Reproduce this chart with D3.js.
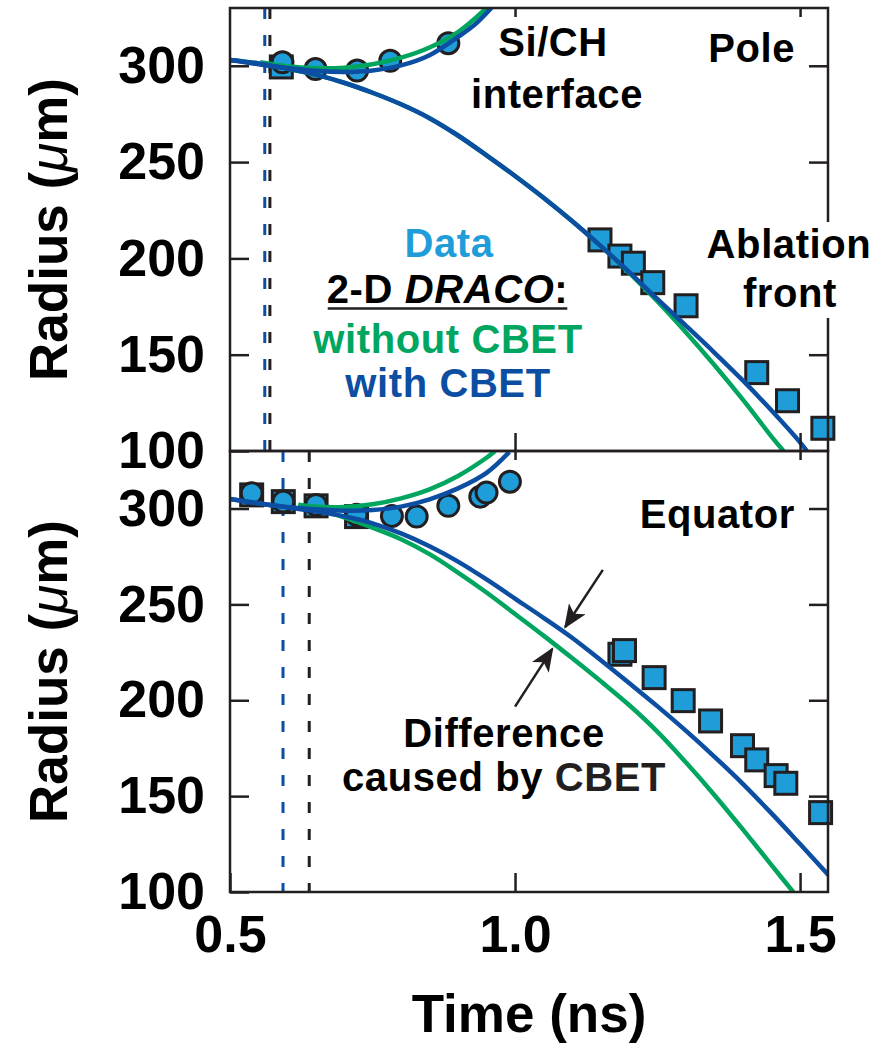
<!DOCTYPE html>
<html><head><meta charset="utf-8">
<script src="https://cdn.jsdelivr.net/npm/d3@7"></script>
<style>
body{margin:0;background:#fff}
svg{display:block}
text{font-family:"Liberation Sans",Arial,Helvetica,sans-serif;font-weight:bold}
</style>
</head><body>
<svg id="chart" width="883" height="1045"></svg>
<script>
// ---------------- data ----------------
const timeTicks = [0.5, 1.0, 1.5];
const radiusTicks = [100, 150, 200, 250, 300];

// Pole panel
const poleSquareT = [0.590, 1.149, 1.184, 1.2076, 1.2416, 1.300, 1.424, 1.478, 1.540];
const poleSquareR = [299.4, 209.6, 201.2, 197.5, 187.4, 175.4, 140.7, 126.1, 111.8];
const poleCircleT = [0.592, 0.650, 0.723, 0.781, 0.883];
const poleCircleR = [301.8, 298.3, 297.5, 302.6, 311.7];

const poleBlueFrontT = [0.50,0.55,0.60,0.65,0.70,0.75,0.80,0.85,0.90,0.95,1.00,1.05,1.10,1.15,1.20,1.25,1.30,1.35,1.40,1.45,1.50,1.512];
const poleBlueFrontR = [303.0,301.2,298.6,295.4,291.2,286.0,280.0,272.8,263.8,253.5,242.8,231.5,219.4,206.5,193.0,178.8,165.0,151.0,136.5,121.0,104.5,100.0];
const poleGreenFrontT = [0.50,0.55,0.60,0.65,0.70,0.75,0.80,0.85,0.90,0.95,1.00,1.05,1.10,1.15,1.20,1.25,1.30,1.35,1.40,1.45,1.471];
const poleGreenFrontR = [303.0,301.2,298.6,295.4,291.2,286.0,280.0,272.8,263.8,253.5,242.8,231.5,219.4,206.5,192.6,177.6,161.5,144.5,126.5,107.5,100.0];
const poleBlueIfaceT = [0.50,0.55,0.60,0.65,0.70,0.75,0.80,0.85,0.90,0.93,0.96];
const poleBlueIfaceR = [303.0,300.8,298.8,297.4,296.8,297.6,300.2,305.5,315.0,321.5,330.5];
const poleGreenIfaceT = [0.553,0.60,0.65,0.70,0.75,0.80,0.85,0.90,0.95];
const poleGreenIfaceR = [301.8,299.8,298.8,299.0,300.8,304.2,309.5,317.5,330.0];
const poleDashBlue = 0.561, poleDashBlack = 0.570;

// Equator panel
const eqSquareT = [0.538, 0.5935, 0.651, 0.722, 1.184, 1.192, 1.244, 1.295, 1.343, 1.399, 1.424, 1.458, 1.475, 1.536];
const eqSquareR = [307.1, 303.6, 301.4, 295.8, 224.0, 225.9, 211.8, 199.8, 189.2, 176.3, 168.9, 160.7, 156.7, 141.4];
const eqCircleT = [0.538, 0.5935, 0.651, 0.722, 0.784, 0.8275, 0.883, 0.939, 0.950, 0.991];
const eqCircleR = [308.0, 303.6, 301.9, 296.7, 296.1, 295.8, 301.4, 306.2, 308.3, 314.0];

const eqBlueFrontT = [0.50,0.55,0.60,0.65,0.70,0.75,0.80,0.85,0.90,0.95,1.00,1.05,1.10,1.15,1.20,1.25,1.30,1.35,1.40,1.45,1.50,1.55];
const eqBlueFrontR = [305.0,302.8,300.6,298.6,296.0,292.3,287.0,280.3,272.3,263.0,253.0,243.0,232.6,221.0,209.0,196.8,184.0,170.5,156.3,141.0,125.0,108.8];
const eqGreenFrontT = [0.62,0.65,0.70,0.75,0.80,0.85,0.90,0.95,1.00,1.05,1.10,1.15,1.20,1.25,1.30,1.35,1.40,1.45,1.488];
const eqGreenFrontR = [302.0,299.8,295.4,290.0,284.0,276.2,266.6,256.2,245.0,233.7,222.0,210.0,197.5,183.5,167.5,150.5,132.5,114.0,100.0];
const eqBlueIfaceT = [0.50,0.55,0.60,0.65,0.70,0.75,0.80,0.85,0.90,0.95,0.99];
const eqBlueIfaceR = [305.0,302.6,300.8,299.6,298.9,299.2,301.0,304.8,310.5,318.6,329.5];
const eqGreenIfaceT = [0.62,0.65,0.70,0.75,0.80,0.85,0.90,0.95,0.965];
const eqGreenIfaceR = [302.0,301.0,300.8,302.2,305.3,310.0,317.0,326.5,330.0];
const eqDashBlue = 0.593, eqDashBlack = 0.639;

// arrows (bottom panel, data units): [t0, r0, t1, r1]
const arrowBlue = [1.154, 268.0, 1.088, 238.2];
const arrowGreen = [1.000, 196.7, 1.0654, 226.8];

// ---------------- styles ----------------
const C_DATA = "#1f9dd9", C_BLUE = "#0b4ea2", C_GREEN = "#00a65f", C_INK = "#231f20";
const FONT = '"Liberation Sans", Arial, Helvetica, sans-serif';

const svg = d3.select("#chart");
const x = d3.scaleLinear().domain([0.5, 1.549]).range([230, 828]);

const defs = svg.append("defs");
defs.append("marker").attr("id", "ah")
  .attr("viewBox", "0 0 12 10").attr("refX", 11).attr("refY", 5)
  .attr("markerUnits", "userSpaceOnUse").attr("markerWidth", 26).attr("markerHeight", 20)
  .attr("orient", "auto")
  .append("path").attr("d", "M0,0 L12,5 L0,10 L3,5 Z").attr("fill", C_INK);

const zip = (a, b) => a.map((v, i) => [v, b[i]]);

const panels = [
  {name: "pole", top: 8, bottom: 451,
   squares: zip(poleSquareT, poleSquareR), circles: zip(poleCircleT, poleCircleR),
   green: [zip(poleGreenFrontT, poleGreenFrontR), zip(poleGreenIfaceT, poleGreenIfaceR)],
   blue: [zip(poleBlueFrontT, poleBlueFrontR), zip(poleBlueIfaceT, poleBlueIfaceR)],
   dashBlue: poleDashBlue, dashBlack: poleDashBlack, bottomTicks: [1.0, 1.5], bottomTickLen: 18, labels: false},
  {name: "eq", top: 451, bottom: 892,
   squares: zip(eqSquareT, eqSquareR), circles: zip(eqCircleT, eqCircleR),
   green: [zip(eqGreenFrontT, eqGreenFrontR), zip(eqGreenIfaceT, eqGreenIfaceR)],
   blue: [zip(eqBlueFrontT, eqBlueFrontR), zip(eqBlueIfaceT, eqBlueIfaceR)],
   dashBlue: eqDashBlue, dashBlack: eqDashBlack, bottomTicks: timeTicks, bottomTickLen: 19, labels: true}
];

function styleAxis(g) {
  g.select(".domain").remove();
  g.selectAll(".tick line").attr("stroke", C_INK).attr("stroke-width", 2.5);
  g.selectAll("text").attr("font-family", FONT).attr("font-weight", "bold")
    .attr("font-size", 52).attr("fill", "#000");
}

panels.forEach(p => {
  const y = d3.scaleLinear().domain([100, 330]).range([p.bottom, p.top]);
  const g = svg.append("g").attr("class", p.name);
  const clipId = "clip-" + p.name;
  defs.append("clipPath").attr("id", clipId).append("rect")
    .attr("x", x.range()[0]).attr("y", p.top)
    .attr("width", x.range()[1] - x.range()[0]).attr("height", p.bottom - p.top);

  // dashed time markers
  [[p.dashBlue, C_BLUE], [p.dashBlack, C_INK]].forEach(([t, c]) => {
    g.append("line").attr("x1", x(t)).attr("x2", x(t)).attr("y1", p.top).attr("y2", p.bottom)
      .attr("stroke", c).attr("stroke-width", 3).attr("stroke-dasharray", "11,16");
  });

  // data markers
  g.append("g").selectAll("rect").data(p.squares).join("rect")
    .attr("x", d => x(d[0]) - 11).attr("y", d => y(d[1]) - 11)
    .attr("width", 22).attr("height", 22)
    .attr("fill", C_DATA).attr("stroke", C_INK).attr("stroke-width", 3);
  g.append("g").selectAll("circle").data(p.circles).join("circle")
    .attr("cx", d => x(d[0])).attr("cy", d => y(d[1])).attr("r", 10.5)
    .attr("fill", C_DATA).attr("stroke", C_INK).attr("stroke-width", 3);

  // simulation curves
  const line = d3.line().x(d => x(d[0])).y(d => y(d[1])).curve(d3.curveCatmullRom.alpha(0.5));
  const lg = g.append("g").attr("clip-path", `url(#${clipId})`);
  p.green.forEach(s => lg.append("path").attr("d", line(s)).attr("fill", "none")
    .attr("stroke", C_GREEN).attr("stroke-width", 4.5));
  p.blue.forEach(s => lg.append("path").attr("d", line(s)).attr("fill", "none")
    .attr("stroke", C_BLUE).attr("stroke-width", 4.5));

  // frame
  g.append("rect").attr("x", x.range()[0]).attr("y", p.top)
    .attr("width", x.range()[1] - x.range()[0]).attr("height", p.bottom - p.top)
    .attr("fill", "none").attr("stroke", C_INK).attr("stroke-width", 2.5);

  // axes
  g.append("g").attr("transform", `translate(${x.range()[0]},0)`)
    .call(d3.axisLeft(y).tickValues(radiusTicks).tickSizeInner(-19).tickSizeOuter(0)
      .tickPadding(25).tickFormat(d3.format("d")))
    .call(styleAxis);
  g.append("g").attr("transform", `translate(${x.range()[1]},0)`)
    .call(d3.axisRight(y).tickValues([150, 200, 250, 300]).tickSizeInner(-19).tickSizeOuter(0).tickFormat(""))
    .call(styleAxis);
  g.append("g").attr("transform", `translate(0,${p.top})`)
    .call(d3.axisTop(x).tickValues([1.0, 1.5]).tickSizeInner(-9).tickSizeOuter(0).tickFormat(""))
    .call(styleAxis);
  g.append("g").attr("transform", `translate(0,${p.bottom})`)
    .call(d3.axisBottom(x).tickValues(p.bottomTicks).tickSizeInner(-p.bottomTickLen).tickSizeOuter(0)
      .tickPadding(23).tickFormat(p.labels ? d3.format(".1f") : ""))
    .call(styleAxis);

  // y-axis title
  const yt = g.append("text")
    .attr("transform", `translate(67,${(p.top + p.bottom) / 2}) rotate(-90)`)
    .attr("text-anchor", "middle").attr("font-size", 53).attr("fill", "#000");
  yt.append("tspan").text("Radius (");
  yt.append("tspan").attr("font-style", "italic").attr("font-weight", "normal").text("\u03bc");
  yt.append("tspan").text("m)");

  p.y = y;
  p.g = g;
});

// x-axis title
svg.append("text").attr("x", 529).attr("y", 1032).attr("text-anchor", "middle")
  .attr("font-size", 53).attr("fill", "#000").text("Time (ns)");

// ---------------- annotations ----------------
const topG = panels[0].g, botG = panels[1].g;
function label(g, txt, xx, yy, anchor, color) {
  return g.append("text").attr("x", xx).attr("y", yy).attr("text-anchor", anchor || "middle")
    .attr("font-size", 40).attr("letter-spacing", 0.6).attr("fill", color || "#000").text(txt);
}
label(topG, "Si/CH", 553, 56);
label(topG, "interface", 557, 108);
label(topG, "Pole", 795, 62, "end");
topG.append("rect").attr("x", 700).attr("y", 222).attr("width", 178).attr("height", 96).attr("fill", "#fff");
label(topG, "Ablation", 789, 258);
label(topG, "front", 790, 307);

label(topG, "Data", 449, 257, "middle", C_DATA);
const dr = topG.append("text").attr("x", 447.5).attr("y", 303).attr("text-anchor", "middle")
  .attr("font-size", 40).attr("letter-spacing", 0.6).attr("fill", "#000");
dr.append("tspan").text("2-D ");
dr.append("tspan").attr("font-style", "italic").text("DRACO");
dr.append("tspan").text(":");
const bb = dr.node().getBBox();
topG.append("line").attr("x1", bb.x + 1).attr("x2", bb.x + bb.width - 1).attr("y1", 308.5).attr("y2", 308.5)
  .attr("stroke", C_INK).attr("stroke-width", 2.5);
label(topG, "without CBET", 448, 353, "middle", C_GREEN);
label(topG, "with CBET", 448, 397, "middle", C_BLUE);

label(botG, "Equator", 795, 528, "end");
label(botG, "Difference", 504, 747);
const cb = label(botG, "caused by ", 504, 791);
cb.append("tspan").attr("fill", C_INK).text("CBET");

const yb = panels[1].y;
[arrowBlue, arrowGreen].forEach(a => {
  botG.append("line").attr("x1", x(a[0])).attr("y1", yb(a[1])).attr("x2", x(a[2])).attr("y2", yb(a[3]))
    .attr("stroke", C_INK).attr("stroke-width", 2.5).attr("marker-end", "url(#ah)");
});
</script>
</body></html>
